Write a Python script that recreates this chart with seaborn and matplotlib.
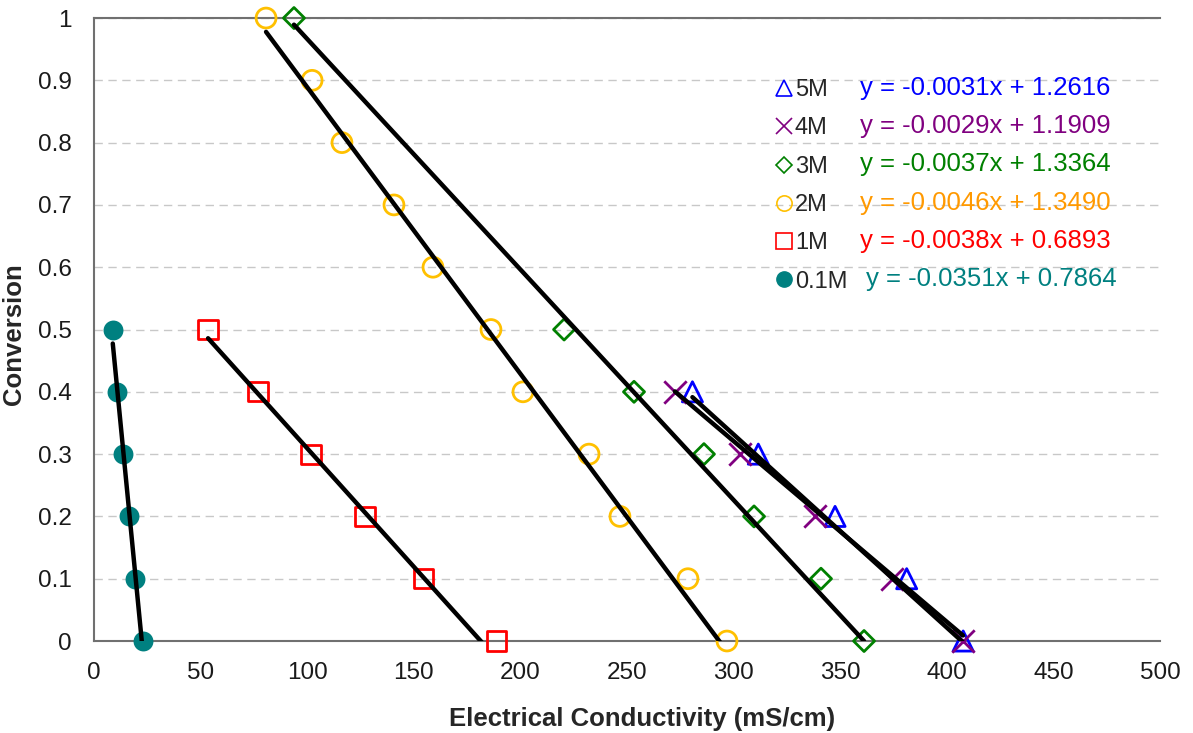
import numpy as np
import pandas as pd
import seaborn as sns
import matplotlib.pyplot as plt
from matplotlib.lines import Line2D

sns.set_style('white')
plt.rcParams['font.family'] = ['Liberation Sans', 'DejaVu Sans']

# conversion levels
conv_full = [1.0, 0.9, 0.8, 0.7, 0.6, 0.5, 0.4, 0.3, 0.2, 0.1, 0.0]
conv_half = [0.5, 0.4, 0.3, 0.2, 0.1, 0.0]
conv_low = [0.4, 0.3, 0.2, 0.1, 0.0]

# electrical conductivity readings (mS/cm)
ec_01M = [8.8, 10.8, 13.6, 16.4, 19.2, 22.8]
ec_1M = [53.5, 76.9, 101.8, 127.1, 154.5, 188.6]
ec_2M = [80.7, 102.3, 116.3, 140.7, 159.0, 186.2, 201.2, 232.2, 246.7, 278.6, 296.9]
ec_3M = [93.8, 220.5, 253.3, 286.1, 309.6, 341.0, 361.2]
conv_3M = [1.0, 0.5, 0.4, 0.3, 0.2, 0.1, 0.0]
ec_4M = [272.5, 303.0, 338.2, 374.3, 407.6]
ec_5M = [280.7, 311.6, 347.6, 381.2, 407.7]

labels = ['5M', '4M', '3M', '2M', '1M', '0.1M']
slopes = [-0.0031, -0.0029, -0.0037, -0.0046, -0.0038, -0.0351]
intercepts = [1.2616, 1.1909, 1.3364, 1.3490, 0.6893, 0.7864]

series = {
    '5M': (ec_5M, conv_low),
    '4M': (ec_4M, conv_low),
    '3M': (ec_3M, conv_3M),
    '2M': (ec_2M, conv_full),
    '1M': (ec_1M, conv_half),
    '0.1M': (ec_01M, conv_half),
}

marker_col = {'5M': '#0000FF', '4M': '#800080', '3M': '#008000',
              '2M': '#FFC000', '1M': '#FF0000', '0.1M': '#008080'}
text_col = {'5M': '#0000FF', '4M': '#800080', '3M': '#008000',
            '2M': '#FF9900', '1M': '#FF0000', '0.1M': '#008080'}
markers = {'5M': '^', '4M': 'x', '3M': 'D', '2M': 'o', '1M': 's', '0.1M': 'o'}
msize = {'5M': 210, '4M': 260, '3M': 115, '2M': 205, '1M': 190, '0.1M': 205}

fig, ax = plt.subplots(figsize=(11.93, 7.33), dpi=100)
fig.subplots_adjust(left=0.0788, right=0.9723, top=0.9754, bottom=0.1255)

for lab in labels:
    xs, ys = series[lab]
    df = pd.DataFrame({'ec': xs, 'conv': ys})
    c = marker_col[lab]
    if lab == '0.1M':
        sns.scatterplot(data=df, x='ec', y='conv', ax=ax, marker='o', s=msize[lab],
                        color=c, edgecolor=c, linewidth=0, zorder=3, clip_on=False)
    elif lab == '4M':
        sns.scatterplot(data=df, x='ec', y='conv', ax=ax, marker='x', s=msize[lab],
                        color=c, linewidth=2, zorder=3, clip_on=False)
    else:
        sns.scatterplot(data=df, x='ec', y='conv', ax=ax, marker=markers[lab], s=msize[lab],
                        facecolor='none', edgecolor=c, linewidth=2, zorder=3, clip_on=False)

# trendlines over each series' data range
for lab, m, b in zip(labels, slopes, intercepts):
    xs, _ = series[lab]
    xl = np.array([min(xs), max(xs)])
    sns.lineplot(x=xl, y=m * xl + b, ax=ax, color='black', linewidth=3.2, zorder=4)

yt = np.round(np.arange(0, 1.01, 0.1), 1)
ax.set_xlim(0, 500)
ax.set_ylim(0, 1)
ax.set_xticks(np.arange(0, 501, 50))
ax.set_yticks(yt)
ax.set_yticklabels([f'{v:g}' for v in yt])
ax.yaxis.grid(True, color='#C8C8C8', linestyle=(0, (6, 4)), linewidth=1)
ax.set_axisbelow(True)
for s in ['left', 'bottom', 'top']:
    ax.spines[s].set_color('#707070')
    ax.spines[s].set_linewidth(1.5)
ax.spines['right'].set_visible(False)
ax.tick_params(axis='both', which='both', direction='out', length=6, width=1.2,
               color='#404040', labelsize=17.5, labelcolor='#1a1a1a')
ax.tick_params(axis='y', pad=10)
ax.tick_params(axis='x', pad=9)
ax.set_xlabel('Electrical Conductivity (mS/cm)', fontsize=18.5, fontweight='bold')
ax.set_ylabel('Conversion', fontsize=18.5, fontweight='bold')
ax.xaxis.set_label_coords(0.514, -0.106)
ax.yaxis.set_label_coords(-0.064, 0.493)

# legend with marker symbols
handles = []
for lab in labels:
    c = marker_col[lab]
    if lab == '0.1M':
        h = Line2D([], [], linestyle='none', marker='o', markersize=11,
                   markerfacecolor=c, markeredgecolor=c)
    elif lab == '4M':
        h = Line2D([], [], linestyle='none', marker='x', markersize=12,
                   markeredgecolor=c, markeredgewidth=1.2)
    else:
        h = Line2D([], [], linestyle='none', marker=markers[lab],
                   markersize=11 if lab != '3M' else 8,
                   markerfacecolor='none', markeredgecolor=c, markeredgewidth=1.2)
    handles.append(h)
leg = ax.legend(handles, labels, loc='upper left', bbox_to_anchor=(0.632, 0.917),
                frameon=False, fontsize=17, handlelength=0.6, handletextpad=0.15,
                labelspacing=0.69, borderaxespad=0)

rows_y = [0.8876, 0.8266, 0.7656, 0.7030, 0.6420, 0.5810]
for lab, m, b, yy in zip(labels, slopes, intercepts, rows_y):
    xx = 0.7240 if lab == '0.1M' else 0.7186
    ax.text(xx, yy, f'y = {m:.4f}x + {b:.4f}', transform=ax.transAxes,
            color=text_col[lab], fontsize=18.5, va='center', ha='left')

fig.savefig('out.png', dpi=100)
